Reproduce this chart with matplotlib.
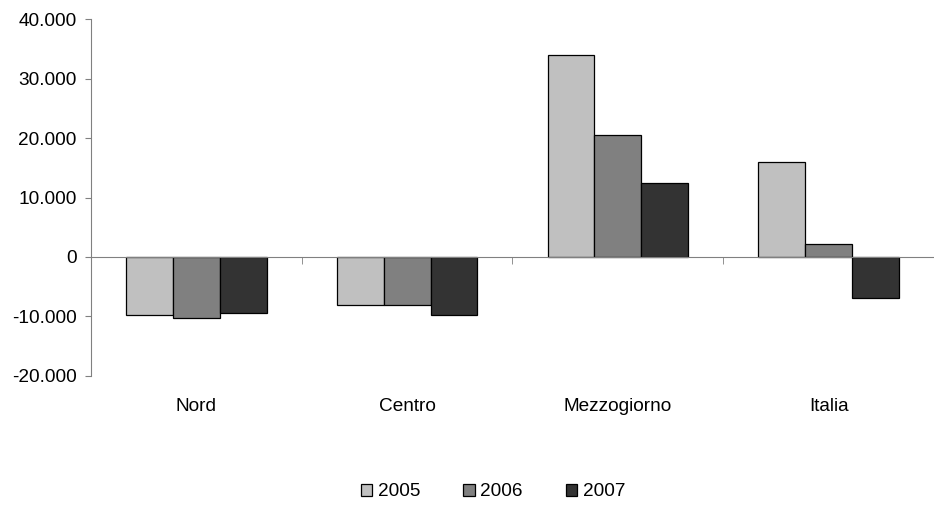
import numpy as np
from matplotlib import pyplot as plt
from matplotlib.ticker import FuncFormatter, FixedLocator

plt.rcParams['font.family'] = ['Liberation Sans', 'DejaVu Sans']

# dati
regioni = ["Nord", "Centro", "Mezzogiorno", "Italia"]
anni = ["2005", "2006", "2007"]
v2005 = [-9750, -8100, 33950, 15950]
v2006 = [-10300, -8050, 20450, 2150]
v2007 = [-9450, -9800, 12450, -6850]
colori = ["#c0c0c0", "#808080", "#333333"]

fig = plt.figure(figsize=(9.34, 5.07), dpi=100)
ax = fig.add_axes([0.0974, 0.2584, 0.9026, 0.7041])

x = np.arange(len(regioni))
w = 1 / 4.5
for i, (serie, c, a) in enumerate(zip([v2005, v2006, v2007], colori, anni)):
    ax.bar(x + (i - 1) * w, serie, w, color=c, edgecolor="black", linewidth=0.9, label=a, zorder=3)

ax.set_xlim(-0.5, len(regioni) - 0.5)
ax.set_ylim(-20000, 40000)
ax.set_yticks(range(-20000, 40001, 10000))
ax.yaxis.set_major_formatter(FuncFormatter(lambda v, p: f"{int(v):,}".replace(",", ".")))
ax.tick_params(axis="y", direction="out", length=4.5, color="#808080", labelsize=13.7, pad=6)

for s in ["top", "right"]:
    ax.spines[s].set_visible(False)
ax.spines["left"].set_color("#808080")
ax.spines["bottom"].set_position(("data", 0))
ax.spines["bottom"].set_color("#808080")
ax.spines["bottom"].set_zorder(4)

# tacche ai confini delle categorie
ax.set_xticks([])
ax.xaxis.set_minor_locator(FixedLocator(np.arange(len(regioni) + 1) - 0.5))
ax.tick_params(axis="x", which="minor", direction="out", length=5, color="#808080")

# etichette delle categorie in basso
sec = ax.secondary_xaxis(0)
sec.set_xticks(x)
sec.set_xticklabels(regioni)
sec.spines["bottom"].set_visible(False)
sec.tick_params(length=0, labelsize=13.7, pad=16)

fig.legend(loc="center", bbox_to_anchor=(493 / 934, 0.03), ncol=3, frameon=False,
           fontsize=13.7, handlelength=0.6, handleheight=0.6, handletextpad=0.3,
           columnspacing=2.25)

fig.savefig("out.png", dpi=100)
